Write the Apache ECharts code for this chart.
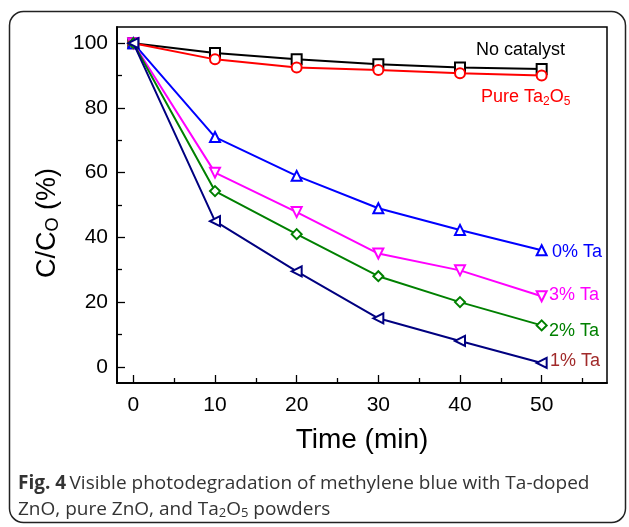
<!DOCTYPE html>
<html>
<head>
<meta charset="utf-8">
<script src="https://cdn.jsdelivr.net/npm/echarts@6/dist/echarts.min.js"></script>
<style>
html,body{margin:0;padding:0;background:#fff;}
#c{width:629px;height:527px;}
</style>
</head>
<body>
<div id="c"></div>
<script>
const times = [0, 10, 20, 30, 40, 50];
const noCatalyst = [100, 97, 95, 93.5, 92.5, 92];
const pureTa2O5 = [100, 95, 92.5, 91.7, 90.7, 90];
const ta0 = [100, 71, 59, 49, 42.3, 36];
const ta3 = [100, 60, 47.8, 35, 29.8, 21.8];
const ta2 = [100, 54.3, 41, 28, 20, 12.8];
const ta1 = [100, 45, 29.5, 15, 8, 1.2];
const xMajor = [0, 10, 20, 30, 40, 50];
const xMinor = [5, 15, 25, 35, 45, 55];
const yMajor = [0, 20, 40, 60, 80, 100];
const yMinor = [10, 30, 50, 70, 90];

const pairs = a => times.map((t, i) => [t, a[i]]);

const chart = echarts.init(document.getElementById('c'), null, {renderer: 'canvas'});
const FONT = 'Liberation Sans, Arial, sans-serif';

function mkSeries(name, data, color, symbol, rotate, z) {
  return {
    name, type: 'line', data: pairs(data),
    xAxisIndex: 0, yAxisIndex: 0,
    symbol, symbolSize: 10, symbolRotate: rotate,
    lineStyle: {color, width: 2},
    itemStyle: {color: color, borderColor: color, borderWidth: 0.9},
    z, animation: false
  };
}

const baseX = {
  type: 'value', min: -2, max: 58,
  axisLine: {show: true, onZero: false, lineStyle: {color: '#000', width: 1.5}},
  splitLine: {show: false}
};
const baseY = {
  type: 'value', min: -5, max: 105,
  axisLine: {show: true, onZero: false, lineStyle: {color: '#000', width: 1.5}},
  splitLine: {show: false}
};

chart.setOption({
  animation: false,
  grid: {left: 117, top: 27, width: 490, height: 356, show: true, borderColor: '#000', borderWidth: 1.5, backgroundColor: 'transparent'},
  xAxis: [
    Object.assign({}, baseX, {
      position: 'bottom',
      name: 'Time (min)', nameLocation: 'middle', nameGap: 43,
      nameTextStyle: {fontFamily: FONT, fontSize: 28, color: '#000'},
      axisTick: {show: true, inside: true, length: 8, customValues: xMajor, lineStyle: {color: '#000', width: 1.3}},
      axisLabel: {show: true, customValues: xMajor, margin: 12, fontFamily: FONT, fontSize: 21, color: '#000'}
    }),
    Object.assign({}, baseX, {
      position: 'bottom',
      axisTick: {show: true, inside: true, length: 5, customValues: xMinor, lineStyle: {color: '#000', width: 1.3}},
      axisLabel: {show: true, customValues: xMinor, color: 'rgba(0,0,0,0)', formatter: () => ' '}
    })
  ],
  yAxis: [
    Object.assign({}, baseY, {
      position: 'left',
      name: '{m|C/C}{s|O}{m| (%)}', nameLocation: 'middle', nameGap: 52, nameRotate: 90,
      nameTextStyle: {
        fontFamily: FONT, color: '#000', padding: [0, 36, 0, 0],
        rich: {
          m: {fontFamily: FONT, fontSize: 27, color: '#000', lineHeight: 32},
          s: {fontFamily: FONT, fontSize: 18, color: '#000', lineHeight: 32, padding: [12, 0, 0, 0]}
        }
      },
      axisTick: {show: true, inside: true, length: 8, customValues: yMajor, lineStyle: {color: '#000', width: 1.3}},
      axisLabel: {show: true, customValues: yMajor, margin: 9, fontFamily: FONT, fontSize: 21, color: '#000'}
    }),
    Object.assign({}, baseY, {
      position: 'left',
      axisTick: {show: true, inside: true, length: 5, customValues: yMinor, lineStyle: {color: '#000', width: 1.3}},
      axisLabel: {show: true, customValues: yMinor, color: 'rgba(0,0,0,0)', formatter: () => ' '}
    })
  ],
  series: [
    mkSeries('No catalyst', noCatalyst, '#000000', 'emptyRect', 0, 2),
    mkSeries('Pure Ta2O5', pureTa2O5, '#ff0000', 'emptyCircle', 0, 3),
    mkSeries('0% Ta', ta0, '#0000ff', 'emptyTriangle', 0, 4),
    mkSeries('3% Ta', ta3, '#ff00ff', 'emptyTriangle', 180, 5),
    mkSeries('2% Ta', ta2, '#008000', 'emptyDiamond', 0, 6),
    mkSeries('1% Ta', ta1, '#000080', 'emptyTriangle', 90, 7)
  ],
  graphic: [
    {type: 'rect', shape: {x: 9.5, y: 11.5, width: 616, height: 511, r: 14}, style: {fill: 'none', stroke: '#222', lineWidth: 1.5}, z: 0},
    {type: 'text', left: 476, top: 41, style: {text: 'No catalyst', font: '18px ' + FONT, fill: '#000'}},
    {type: 'text', left: 481, top: 86, style: {
      text: '{m|Pure Ta}{s|2}{m|O}{s|5}',
      rich: {m: {font: '18px ' + FONT, fill: '#ff0000', lineHeight: 22}, s: {font: '12px ' + FONT, fill: '#ff0000', lineHeight: 22, padding: [10, 0, 0, 0]}}
    }},
    {type: 'text', left: 552, top: 243, style: {text: '0% Ta', font: '18px ' + FONT, fill: '#0000ff'}},
    {type: 'text', left: 549, top: 286, style: {text: '3% Ta', font: '18px ' + FONT, fill: '#ff00ff'}},
    {type: 'text', left: 549, top: 322, style: {text: '2% Ta', font: '18px ' + FONT, fill: '#008000'}},
    {type: 'text', left: 550, top: 352, style: {text: '1% Ta', font: '18px ' + FONT, fill: '#a12a2a'}},
    {type: 'text', left: 18, top: 474, style: {
      text: '{b|Fig. 4} {r|Visible photodegradation of methylene blue with Ta-doped}',
      rich: {b: {font: 'bold 19px "Open Sans"', fill: '#333'}, r: {font: '19px "Open Sans"', fill: '#333'}}
    }},
    {type: 'text', left: 18, top: 500, style: {
      text: '{r|ZnO, pure ZnO, and Ta}{s|2}{r|O}{s|5}{r| powders}',
      rich: {r: {font: '19px "Open Sans"', fill: '#333', lineHeight: 24}, s: {font: '13px "Open Sans"', fill: '#333', lineHeight: 24, padding: [7, 0, 0, 0]}}
    }}
  ]
});
</script>
</body>
</html>
